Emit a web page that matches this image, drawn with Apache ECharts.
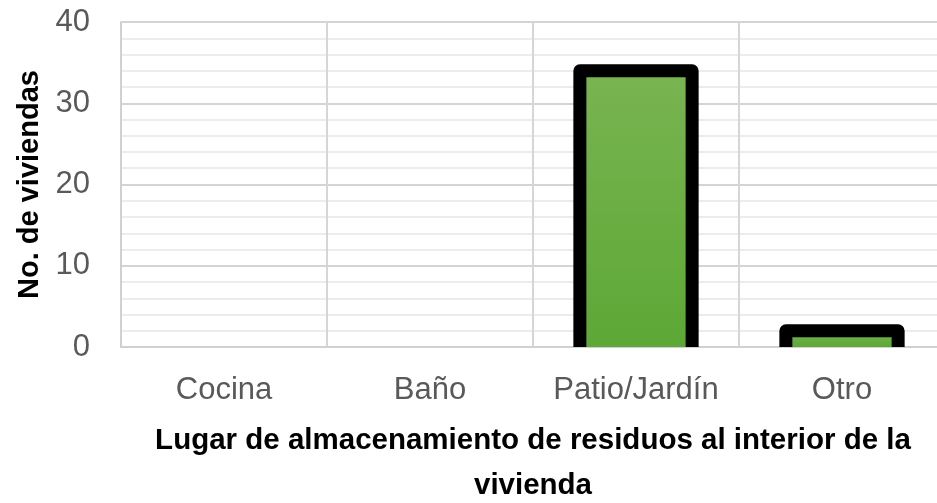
<!DOCTYPE html>
<html>
<head>
<meta charset="utf-8">
<script src="https://cdn.jsdelivr.net/npm/echarts@6/dist/echarts.min.js"></script>
<style>html,body{margin:0;padding:0;background:#fff}#c{width:937px;height:503px}</style>
</head>
<body>
<div id="c"></div>
<script>
const categories = ['Cocina', 'Baño', 'Patio/Jardín', 'Otro'];
const values = [0, 0, 34, 2];
const yTicks = { min: 0, max: 40, interval: 10 };
const xTitle = 'Lugar de almacenamiento de residuos al interior de la\nvivienda';
const yTitle = 'No. de viviendas';

const FONT = "'Liberation Sans', Arial, sans-serif";
const chart = echarts.init(document.getElementById('c'), null, { renderer: 'canvas' });

const barFill = new echarts.graphic.LinearGradient(0, 0, 0, 1, [
  { offset: 0, color: '#79b451' },
  { offset: 1, color: '#5da836' }
]);

chart.setOption({
  animation: false,
  backgroundColor: '#fff',
  grid: { left: 121, top: 22, width: 824, bottom: 156, containLabel: false, outerBoundsMode: 'none' },
  xAxis: {
    type: 'category',
    data: categories,
    boundaryGap: true,
    axisLine: { show: true, lineStyle: { color: '#d0d0d0', width: 2 } },
    axisTick: { show: false },
    splitLine: { show: true, interval: 0, lineStyle: { color: '#d6d6d6', width: 2 } },
    axisLabel: { interval: 0, margin: 28, fontFamily: FONT, fontSize: 31, color: '#595959' },
    name: xTitle,
    nameLocation: 'middle',
    nameGap: 71,
    nameTextStyle: { fontFamily: FONT, fontSize: 29.5, fontWeight: 'bold', color: '#000', lineHeight: 45, align: 'center' }
  },
  yAxis: {
    type: 'value',
    min: yTicks.min, max: yTicks.max, interval: yTicks.interval,
    axisLine: { show: true, lineStyle: { color: '#d0d0d0', width: 2 } },
    axisTick: { show: false },
    splitLine: { show: true, lineStyle: { color: '#d4d4d4', width: 2 } },
    minorTick: { show: false, splitNumber: 5 },
    minorSplitLine: { show: true, lineStyle: { color: '#ececec', width: 2 } },
    axisLabel: { margin: 31, fontFamily: FONT, fontSize: 31, color: '#595959' },
    name: yTitle,
    nameLocation: 'middle',
    nameRotate: 90,
    nameGap: 76,
    nameTextStyle: { fontFamily: FONT, fontSize: 29, fontWeight: 'bold', color: '#000' }
  },
  series: [{
    type: 'custom',
    data: values.map((v, i) => [i, v]),
    encode: { x: 0, y: 1 },
    renderItem: function (params, api) {
      const v = api.value(1);
      if (!v) return null;
      const top = api.coord([api.value(0), v]);
      const base = api.coord([api.value(0), 0]);
      const w = api.size([1, 0])[0] * 0.545;
      const l = top[0] - w / 2, r = top[0] + w / 2;
      return {
        type: 'group',
        children: [
          { type: 'rect', shape: { x: l, y: top[1], width: w, height: base[1] - top[1] }, style: { fill: barFill } },
          { type: 'polyline', shape: { points: [[l, base[1]], [l, top[1]], [r, top[1]], [r, base[1]]] },
            style: { stroke: '#000', lineWidth: 13, fill: null, lineJoin: 'round', lineCap: 'butt' } }
        ]
      };
    }
  }]
});
</script>
</body>
</html>
